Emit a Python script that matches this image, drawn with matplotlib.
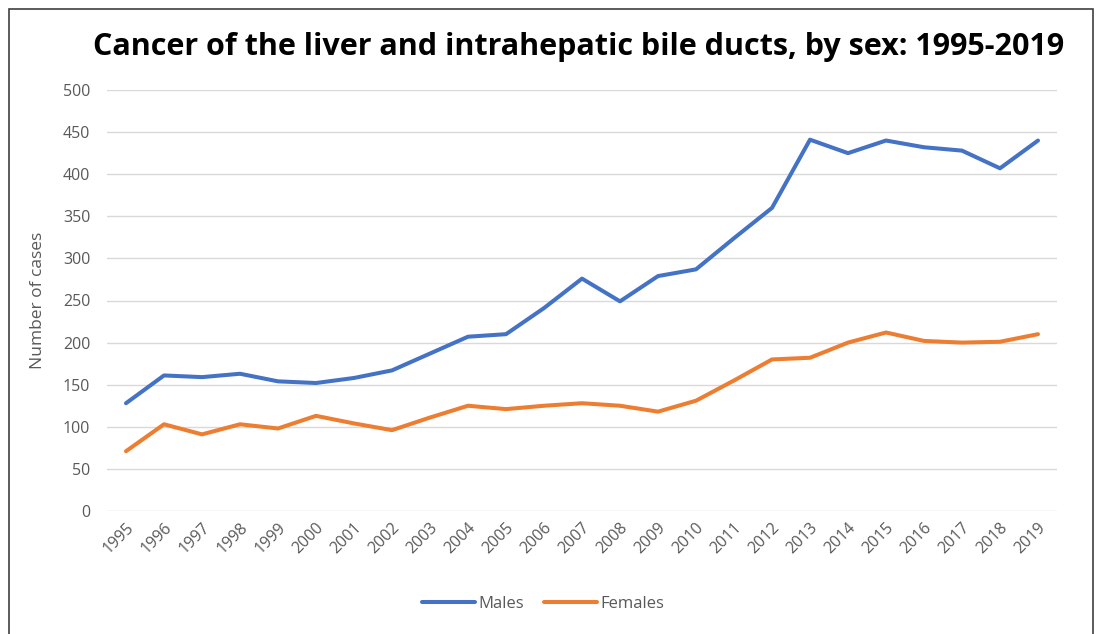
import matplotlib
matplotlib.use("Agg")
import matplotlib.pyplot as plt
from matplotlib.patches import Rectangle

years = list(range(1995, 2020))
males = [128, 161, 159, 163, 154, 152, 158, 167, 187, 207, 210, 241, 276,
         249, 279, 287, 324, 360, 441, 425, 440, 432, 428, 407, 440]
females = [71, 103, 91, 103, 98, 113, 104, 96, 111, 125, 121, 125, 128,
           125, 118, 131, 155, 180, 182, 200, 212, 202, 200, 201, 210]
yticks = [0, 50, 100, 150, 200, 250, 300, 350, 400, 450, 500]

W, H = 1096, 634
fig = plt.figure(figsize=(W / 100, H / 100), dpi=100)
plt.rcParams['font.family'] = ['Open Sans', 'DejaVu Sans']

# outer chart border
fig.patches.append(Rectangle((9 / W, -0.05), (1093 - 9) / W, (H - 9) / H + 0.05,
                             transform=fig.transFigure, fill=False,
                             edgecolor='#404040', linewidth=1.2))

ax = fig.add_axes([107 / W, 1 - 511 / H, (1057 - 107) / W, (511 - 90) / H])
x = list(range(len(years)))
ax.plot(x, males, color='#4472C4', linewidth=2.9, label='Males',
        solid_capstyle='round', solid_joinstyle='round')
ax.plot(x, females, color='#ED7D31', linewidth=2.9, label='Females',
        solid_capstyle='round', solid_joinstyle='round')

ax.set_xlim(-0.5, len(years) - 0.5)
ax.set_ylim(0, 500)
ax.set_yticks(yticks)
ax.set_yticklabels([str(v) for v in yticks])
ax.set_xticks(x)
ax.set_xticklabels([str(y) for y in years], rotation=45, ha='right',
                   rotation_mode='anchor')
ax.tick_params(axis='both', length=0, colors='#595959', labelsize=11.5)
ax.tick_params(axis='y', pad=12)
ax.tick_params(axis='x', pad=6)
ax.grid(axis='y', color='#D9D9D9', linewidth=1.0)
ax.set_axisbelow(True)
for s in ax.spines.values():
    s.set_visible(False)

ax.set_ylabel('Number of cases', color='#595959', fontsize=12.5, labelpad=12)

fig.text(579 / W, 1 - 47 / H,
         'Cancer of the liver and intrahepatic bile ducts, by sex: 1995-2019',
         ha='center', va='center', fontsize=22, fontweight='bold',
         family=['Open Sans', 'DejaVu Sans'], color='black')

leg = fig.legend(loc='center', bbox_to_anchor=(543 / W, 1 - 604 / H), ncol=2,
                 frameon=False, fontsize=12, handlelength=3.2, columnspacing=1.2,
                 handletextpad=0.2)
for t in leg.get_texts():
    t.set_color('#595959')

fig.savefig('out.png', dpi=100)
